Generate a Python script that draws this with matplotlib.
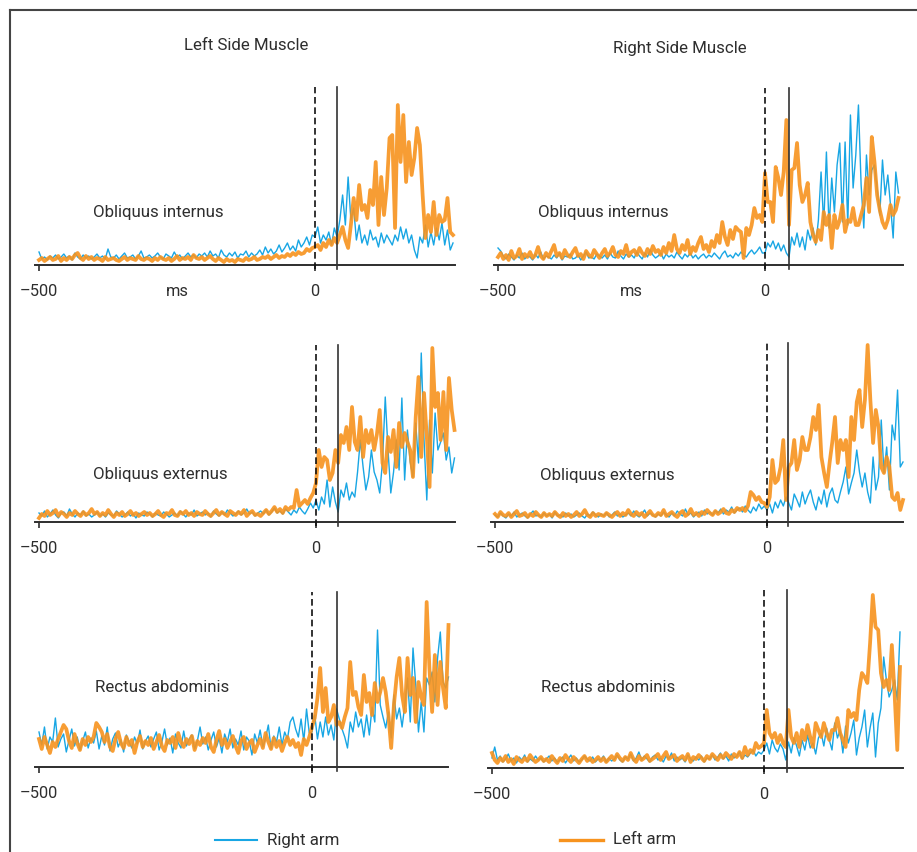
import matplotlib.pyplot as plt
from matplotlib.lines import Line2D

# time axis (ms), 5 ms bins from -500 to 250
ms = list(range(-500, 255, 5))

# ---- EMG amplitude (arbitrary units) ----
# blue = right arm movement, orange = left arm movement

# left side, obliquus internus
li_right_arm = [
    13, 6, 8, 5, 9, 7, 10, 6, 8, 11, 7, 9, 5, 12, 8, 6, 10, 7, 9, 6,
    8, 11, 7, 9, 6, 16, 8, 7, 10, 6, 9, 12, 7, 8, 10, 6, 9, 14, 7, 8,
    10, 7, 9, 12, 8, 6, 11, 9, 7, 13, 8, 10, 6, 9, 12, 8, 10, 7, 11, 9,
    12, 8, 14, 9, 11, 7, 15, 10, 8, 12, 9, 13, 7, 11, 10, 14, 8, 12, 9, 11,
    15, 10, 18, 12, 16, 11, 14, 20, 13, 17, 22, 15, 19, 14, 25, 18, 22, 28, 20, 30,
    28, 38, 22, 30, 25, 33, 20, 37, 28, 45, 70, 40, 88, 45, 57, 25, 40, 22, 30, 20,
    35, 25, 28, 18, 32, 22, 30, 25, 20, 30, 24, 38, 26, 36, 22, 30, 15, 7, 28, 22,
    40, 18, 33, 20, 37, 25, 42, 20, 35, 15, 22]
li_left_arm = [
    5, 7, 4, 6, 8, 5, 6, 9, 4, 7, 5, 8, 6, 10, 12, 7, 5, 9, 6, 8,
    5, 7, 6, 4, 8, 5, 6, 7, 5, 4, 6, 8, 5, 7, 6, 5, 9, 6, 5, 7,
    6, 4, 7, 5, 8, 6, 5, 7, 4, 6, 9, 5, 7, 6, 8, 5, 10, 7, 6, 8,
    5, 7, 9, 6, 4, 7, 5, 3, 6, 4, 5, 3, 6, 5, 4, 7, 5, 6, 8, 5,
    6, 8, 7, 9, 6, 8, 10, 7, 9, 8, 11, 9, 12, 10, 13, 11, 12, 16, 14, 17,
    18, 20, 15, 22, 18, 25, 20, 27, 22, 30, 38, 25, 17, 40, 67, 45, 80, 55, 60, 47,
    75, 60, 103, 40, 88, 50, 77, 127, 130, 37, 160, 103, 150, 83, 123, 90, 107, 137, 120, 70,
    27, 50, 33, 63, 30, 50, 43, 45, 67, 33, 30]

# right side, obliquus internus
ri_right_arm = [
    17, 14, 9, 6, 11, 8, 5, 10, 7, 12, 6, 9, 8, 5, 11, 7, 13, 6, 9, 8,
    6, 10, 7, 12, 5, 9, 8, 11, 6, 7, 10, 5, 9, 13, 7, 8, 6, 11, 9, 7,
    10, 6, 12, 8, 7, 14, 9, 6, 11, 8, 10, 7, 13, 9, 6, 12, 8, 15, 10, 7,
    9, 12, 6, 11, 8, 10, 7, 13, 9, 6, 11, 8, 12, 7, 10, 6, 9, 11, 7, 10,
    8, 12, 9, 6, 11, 14, 8, 10, 7, 12, 9, 13, 10, 8, 12, 15, 11, 14, 18, 12,
    12, 22, 18, 24, 16, 22, 14, 20, 12, 8, 28, 20, 32, 18, 28, 15, 35, 25, 37, 20,
    45, 93, 40, 113, 37, 87, 53, 100, 122, 43, 123, 40, 150, 77, 110, 160, 80, 37, 110, 70,
    95, 100, 77, 50, 105, 70, 90, 60, 27, 93, 72]
ri_left_arm = [
    8, 12, 6, 10, 5, 14, 7, 9, 16, 6, 11, 8, 13, 7, 10, 18, 9, 6, 12, 8,
    14, 20, 9, 12, 7, 15, 10, 8, 13, 17, 9, 11, 6, 14, 10, 8, 15, 11, 7, 12,
    16, 9, 12, 18, 10, 8, 14, 11, 20, 9, 13, 15, 10, 17, 12, 9, 16, 11, 19, 13,
    15, 10, 18, 12, 22, 14, 30, 16, 12, 20, 15, 25, 11, 18, 14, 22, 28, 16, 20, 13,
    24, 18, 30, 22, 43, 28, 20, 35, 26, 38, 35, 33, 7, 37, 30, 40, 57, 47, 50, 43,
    92, 63, 63, 43, 98, 87, 70, 93, 145, 40, 95, 97, 122, 80, 63, 70, 82, 43, 30, 23,
    35, 25, 53, 40, 50, 17, 50, 37, 45, 60, 33, 45, 43, 57, 40, 40, 50, 60, 87, 53,
    128, 103, 70, 55, 43, 37, 45, 60, 50, 55, 67]

# left side, obliquus externus
le_right_arm = [
    9, 6, 11, 5, 8, 12, 7, 4, 9, 10, 6, 13, 8, 5, 9, 7, 11, 6, 8, 5,
    7, 10, 6, 8, 5, 9, 7, 6, 11, 8, 5, 7, 10, 6, 8, 4, 9, 7, 6, 10,
    8, 5, 9, 7, 6, 10, 8, 5, 7, 9, 6, 11, 8, 5, 9, 7, 12, 6, 8, 10,
    7, 9, 5, 11, 8, 6, 10, 7, 12, 9, 6, 8, 11, 7, 9, 13, 8, 10, 6, 9,
    11, 8, 12, 7, 10, 14, 9, 11, 8, 13, 10, 7, 12, 9, 15, 11, 8, 13, 19, 14,
    22, 12, 25, 18, 42, 15, 35, 20, 10, 32, 25, 39, 22, 30, 25, 50, 82, 55, 32, 45,
    72, 50, 42, 29, 60, 125, 72, 29, 50, 82, 52, 124, 42, 92, 60, 45, 99, 59, 169, 82,
    22, 102, 49, 109, 72, 80, 89, 62, 75, 49, 64]
le_left_arm = [
    4, 8, 6, 11, 7, 9, 12, 6, 10, 8, 5, 9, 7, 11, 8, 6, 10, 7, 9, 13,
    8, 10, 6, 9, 7, 12, 8, 5, 9, 7, 10, 6, 8, 11, 7, 9, 6, 8, 10, 7,
    9, 6, 8, 11, 7, 5, 9, 8, 12, 7, 6, 10, 8, 11, 7, 9, 6, 10, 8, 7,
    11, 8, 6, 9, 12, 7, 10, 8, 6, 11, 9, 7, 10, 8, 12, 6, 9, 11, 7, 8,
    6, 9, 12, 8, 11, 15, 10, 13, 9, 15, 12, 15, 14, 32, 16, 19, 22, 18, 24, 29,
    39, 72, 55, 65, 62, 42, 49, 72, 59, 87, 79, 95, 72, 115, 80, 72, 105, 65, 92, 79,
    92, 72, 88, 112, 59, 49, 85, 70, 92, 55, 99, 75, 89, 80, 72, 45, 105, 145, 65, 129,
    85, 35, 174, 115, 129, 82, 130, 72, 144, 112, 92]

# right side, obliquus externus
re_right_arm = [
    7, 5, 9, 6, 4, 8, 6, 10, 5, 7, 9, 6, 4, 8, 11, 6, 7, 5, 9, 6,
    8, 4, 10, 6, 7, 5, 9, 6, 8, 5, 7, 9, 6, 4, 8, 6, 10, 7, 5, 8,
    6, 9, 5, 7, 10, 6, 8, 5, 7, 9, 6, 11, 7, 5, 8, 12, 6, 9, 7, 5,
    8, 6, 10, 7, 5, 9, 6, 11, 8, 6, 13, 7, 9, 5, 8, 10, 6, 12, 8, 10,
    7, 11, 9, 13, 8, 12, 10, 15, 9, 12, 14, 10, 16, 12, 9, 15, 11, 18, 13, 16,
    12, 18, 9, 20, 14, 22, 16, 25, 19, 12, 28, 22, 15, 30, 18, 26, 32, 20, 12, 25,
    18, 32, 15, 28, 34, 22, 19, 30, 40, 55, 28, 39, 49, 72, 50, 35, 49, 30, 19, 65,
    32, 45, 102, 49, 75, 32, 97, 82, 132, 55, 60]
re_left_arm = [
    8, 5, 10, 7, 6, 9, 5, 8, 11, 6, 7, 9, 5, 8, 6, 10, 7, 5, 9, 6,
    8, 6, 10, 7, 5, 9, 6, 8, 5, 7, 10, 6, 8, 12, 7, 5, 9, 6, 8, 7,
    6, 9, 7, 5, 8, 10, 6, 9, 7, 12, 8, 6, 10, 7, 9, 5, 8, 11, 7, 6,
    9, 7, 12, 6, 8, 10, 7, 5, 9, 11, 6, 8, 13, 7, 9, 6, 10, 8, 12, 9,
    7, 11, 8, 10, 13, 9, 8, 12, 10, 14, 12, 14, 11, 16, 30, 27, 22, 25, 20, 19,
    15, 25, 62, 39, 42, 55, 82, 22, 55, 59, 82, 52, 62, 85, 72, 72, 85, 105, 92, 117,
    65, 49, 35, 59, 80, 105, 59, 82, 72, 82, 45, 105, 82, 120, 132, 95, 122, 177, 122, 79,
    112, 95, 55, 49, 65, 55, 25, 22, 29, 12, 22]

# left side, rectus abdominis
lr_right_arm = [
    35, 22, 40, 18, 30, 25, 49, 20, 28, 33, 15, 27, 38, 21, 30, 17, 26, 35, 19, 29,
    24, 36, 18, 31, 22, 40, 16, 28, 34, 20, 27, 15, 32, 25, 19, 30, 23, 37, 18, 26,
    31, 20, 28, 35, 17, 25, 38, 22, 29, 14, 33, 24, 19, 36, 21, 28, 32, 18, 26, 40,
    23, 30, 17, 27, 35, 20, 29, 14, 33, 25, 38, 19, 28, 22, 36, 17, 30, 26, 12, 33,
    24, 37, 20, 29, 42, 18, 31, 25, 40, 22, 35, 28, 45, 50, 38, 30, 48, 26, 58, 34,
    35, 52, 28, 45, 30, 50, 32, 42, 27, 58, 48, 38, 30, 19, 45, 35, 55, 40, 48, 30,
    52, 32, 60, 45, 137, 62, 50, 39, 55, 29, 72, 48, 59, 40, 62, 89, 45, 119, 82, 35,
    65, 35, 89, 82, 95, 65, 109, 135, 85, 79, 90]
lr_left_arm = [
    28, 18, 30, 22, 14, 25, 20, 28, 35, 42, 38, 26, 19, 33, 24, 17, 28, 22, 30, 25,
    30, 44, 40, 35, 25, 33, 20, 16, 28, 35, 24, 19, 30, 22, 27, 14, 25, 31, 20, 26,
    22, 29, 18, 25, 32, 21, 16, 27, 24, 30, 19, 34, 25, 20, 28, 23, 31, 17, 26, 22,
    29, 24, 33, 20, 15, 27, 36, 22, 28, 19, 25, 31, 21, 14, 26, 30, 18, 24, 27, 15,
    22, 28, 19, 34, 25, 18, 29, 20, 26, 16, 24, 30, 22, 27, 20, 24, 12, 28, 22, 30,
    40, 49, 69, 99, 55, 79, 45, 50, 62, 42, 45, 39, 50, 59, 105, 72, 75, 60, 52, 92,
    65, 74, 52, 84, 65, 75, 89, 75, 52, 19, 62, 90, 109, 72, 55, 109, 72, 89, 45, 85,
    70, 62, 165, 99, 55, 112, 62, 105, 79, 59, 142]

# right side, rectus abdominis
rr_right_arm = [
    10, 21, 8, 12, 6, 9, 14, 7, 10, 5, 11, 8, 13, 6, 9, 7, 12, 8, 10, 6,
    9, 12, 7, 10, 6, 8, 11, 5, 9, 13, 7, 10, 6, 8, 12, 9, 7, 11, 6, 9,
    8, 12, 6, 10, 7, 9, 13, 8, 6, 11, 9, 14, 7, 10, 16, 8, 12, 9, 6, 11,
    13, 8, 10, 6, 12, 9, 15, 7, 11, 8, 10, 6, 13, 9, 7, 11, 8, 12, 6, 10,
    9, 13, 8, 11, 15, 9, 12, 7, 14, 10, 12, 16, 9, 13, 11, 15, 18, 12, 16, 14,
    18, 25, 14, 28, 20, 16, 24, 19, 8, 26, 15, 30, 22, 12, 28, 18, 33, 20, 25, 14,
    30, 35, 22, 40, 28, 18, 45, 30, 38, 15, 42, 25, 35, 48, 13, 30, 41, 58, 21, 40,
    55, 11, 45, 60, 111, 88, 71, 78, 88, 68, 136]
rr_left_arm = [
    15, 8, 5, 10, 7, 12, 6, 9, 4, 11, 8, 6, 10, 7, 13, 9, 6, 8, 11, 7,
    9, 6, 12, 8, 5, 10, 7, 13, 9, 6, 11, 8, 5, 9, 12, 7, 10, 6, 8, 11,
    7, 10, 6, 9, 12, 8, 14, 10, 7, 11, 8, 15, 9, 6, 12, 8, 10, 13, 7, 9,
    11, 14, 8, 12, 16, 9, 11, 13, 7, 10, 12, 8, 14, 6, 11, 9, 13, 10, 7, 12,
    9, 14, 11, 8, 13, 10, 15, 12, 9, 14, 11, 16, 10, 21, 13, 18, 15, 25, 20, 22,
    25, 58, 35, 30, 35, 25, 33, 25, 21, 58, 31, 25, 35, 21, 38, 28, 43, 31, 21, 45,
    38, 31, 45, 35, 28, 38, 38, 50, 35, 28, 21, 58, 51, 55, 48, 78, 95, 91, 85, 125,
    173, 141, 138, 95, 81, 88, 78, 123, 75, 18, 101]

muscles = ["Obliquus internus", "Obliquus internus",
           "Obliquus externus", "Obliquus externus",
           "Rectus abdominis", "Rectus abdominis"]
right_arm = [li_right_arm, ri_right_arm, le_right_arm, re_right_arm, lr_right_arm, rr_right_arm]
left_arm = [li_left_arm, ri_left_arm, le_left_arm, re_left_arm, lr_left_arm, rr_left_arm]
onset_ms = [40, 45, 40, 39, 45, 42]   # solid line

# panel layout in pixels: axis left, axis right, x of -500, x of 0, baseline, top, label centre
frames = [
    (35, 455, 39, 315, 265, 87, 158, 213),
    (494, 903, 498, 765, 265, 88, 603, 213),
    (35, 455, 39, 316, 522, 345, 160, 475),
    (491, 903, 495, 767, 522, 343, 607, 476),
    (35, 448, 39, 312, 767, 592, 162, 688),
    (488, 903, 492, 764, 768, 590, 608, 688),
]

BLUE = "#18a6e4"
ORANGE = "#f7931e"
INK = "#2e2e2e"
FS = 11.8      # tick labels
FL = 12.2      # other labels

plt.rcParams['font.family'] = ['Roboto', 'DejaVu Sans']

W, H = 917, 852
fig = plt.figure(figsize=(W / 100, H / 100), dpi=100)


def fx(px):
    return px / W


def fy(py):
    return 1 - py / H


for k in range(6):
    L, R, xm, x0, base, top, lx, ly = frames[k]
    for v in (right_arm[k], left_arm[k]):
        assert len(v) == len(ms), (k, len(v))
    ax = fig.add_axes([fx(L), fy(base), (R - L) / W, (base - top) / H])
    s = (x0 - xm) / 500.0
    ax.set_xlim(-500 - (xm - L) / s, (R - x0) / s)
    ax.set_ylim(0, base - top)

    ax.plot(ms, right_arm[k], color=BLUE, lw=1.0, zorder=2, clip_on=False)
    ax.plot(ms, left_arm[k], color=ORANGE, lw=2.7, alpha=0.9, zorder=3,
            solid_joinstyle='round', clip_on=False)

    ax.axvline(0, ymin=-0.02, ymax=1, color="#111111", lw=1.2,
               linestyle=(0, (4, 2.2)), zorder=4, clip_on=False)
    ax.axvline(onset_ms[k], ymin=-0.02, ymax=1, color="#333333", lw=1.2,
               zorder=4, clip_on=False)

    for side in ("top", "right", "left"):
        ax.spines[side].set_visible(False)
    ax.spines["bottom"].set_color(INK)
    ax.spines["bottom"].set_linewidth(1.4)
    ax.set_yticks([])
    ax.set_xticks([-500, 0])
    ax.set_xticklabels(["\u2013500", "0"])
    ax.tick_params(axis="x", direction="out", length=4, width=1.2, color=INK,
                   pad=10, labelsize=FS, labelcolor=INK)
    ax.patch.set_visible(False)

    if k < 2:
        ax.annotate("ms", xy=(-250, 0), xytext=(0, -26), textcoords="offset pixels",
                    ha="center", va="center", fontsize=FS, color=INK)

    fig.text(fx(lx), fy(ly), muscles[k], ha="center", va="center",
             fontsize=FL, color=INK)

fig.text(fx(246), fy(46), "Left Side Muscle", ha="center", va="center",
         fontsize=FL, color=INK)
fig.text(fx(680), fy(48), "Right Side Muscle", ha="center", va="center",
         fontsize=FL, color=INK)

# legend
fig.add_artist(Line2D([fx(215), fx(257)], [fy(840), fy(840)], color=BLUE, lw=1.5,
                      transform=fig.transFigure))
fig.text(fx(267), fy(840), "Right arm", ha="left", va="center", fontsize=FL, color=INK)
fig.add_artist(Line2D([fx(560), fx(603)], [fy(840), fy(840)], color=ORANGE, lw=2.4,
                      transform=fig.transFigure))
fig.text(fx(613), fy(840), "Left arm", ha="left", va="center", fontsize=FL, color=INK)

# outer frame (left and top edges)
fig.add_artist(Line2D([fx(10), fx(10)], [0, fy(10)], color="#444444", lw=1.5,
                      transform=fig.transFigure))
fig.add_artist(Line2D([fx(10), 1], [fy(10), fy(10)], color="#444444", lw=1.5,
                      transform=fig.transFigure))

fig.savefig("out.png", dpi=100)
